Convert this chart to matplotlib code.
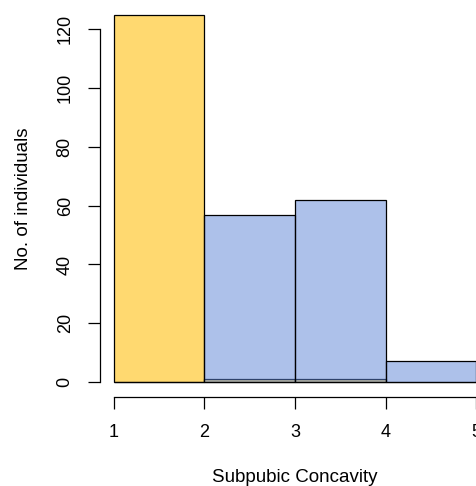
import numpy as np
import matplotlib.pyplot as plt

plt.rcParams['font.family'] = ['Liberation Sans', 'DejaVu Sans']

bin_edges = [1, 2, 3, 4, 5]
yellow_counts = [125, 1, 1, 0]
blue_counts = [0, 57, 62, 7]
y_ticks = [0, 20, 40, 60, 80, 100, 120]

fig = plt.figure(figsize=(4.77, 4.86), dpi=100)
ax = fig.add_axes([0.2086, 0.1837, 0.8197, 0.8163])

left = bin_edges[:-1]
widths = np.diff(bin_edges)
ax.bar(left, yellow_counts, width=widths, align='edge',
       color='#FFD970', edgecolor='black', linewidth=0.9)
ax.bar(left, blue_counts, width=widths, align='edge',
       color=(0.36, 0.52, 0.84, 0.5), edgecolor='black', linewidth=0.9)

ax.set_xlim(0.84, 5.16)
ax.set_ylim(-5, 130)

ax.spines['top'].set_visible(False)
ax.spines['right'].set_visible(False)
ax.spines['left'].set_bounds(0, 120)
ax.spines['bottom'].set_bounds(1, 5)
for s in ('left', 'bottom'):
    ax.spines[s].set_linewidth(0.9)

ax.set_xticks(bin_edges)
ax.set_yticks(y_ticks)
ax.set_yticklabels([str(t) for t in y_ticks], rotation=90, va='center')
ax.tick_params(axis='both', direction='out', length=8.6, width=0.9,
               labelsize=13, colors='black')
ax.tick_params(axis='y', pad=10)
ax.tick_params(axis='x', pad=11)

ax.set_xlabel('Subpubic Concavity', fontsize=13.5, labelpad=20)
ax.set_ylabel('No. of individuals', fontsize=13.5, labelpad=18)

fig.savefig('out.png', dpi=100)
